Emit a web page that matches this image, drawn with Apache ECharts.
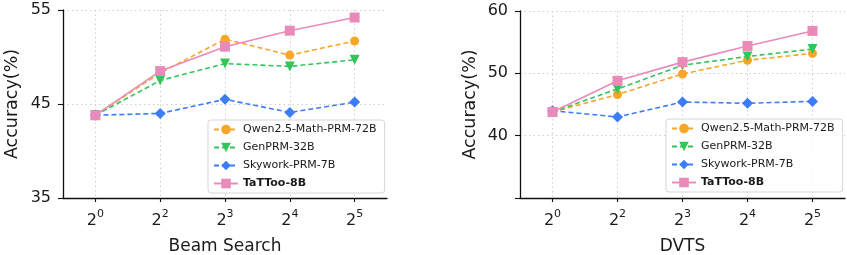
<!DOCTYPE html>
<html><head><meta charset="utf-8">
<script src="https://cdn.jsdelivr.net/npm/echarts@6/dist/echarts.min.js"></script>
<style>html,body{margin:0;padding:0;background:#fff}#c{width:847px;height:255px}</style>
</head><body><div id="c"></div>
<script>
const exponents = ['0','2','3','4','5'];
const seriesNames = ['Qwen2.5-Math-PRM-72B','GenPRM-32B','Skywork-PRM-7B','TaTToo-8B'];
// Beam Search
const beamQwen    = [43.8, 48.3, 51.9, 50.2, 51.7];
const beamGen     = [43.8, 47.5, 49.3, 49.0, 49.7];
const beamSky     = [43.8, 44.0, 45.5, 44.1, 45.2];
const beamTattoo  = [43.8, 48.5, 51.1, 52.8, 54.2];
// DVTS
const dvtsQwen    = [43.8, 46.6, 49.9, 52.1, 53.2];
const dvtsGen     = [43.8, 47.5, 51.3, 52.7, 53.9];
const dvtsSky     = [44.0, 43.0, 45.4, 45.2, 45.5];
const dvtsTattoo  = [43.8, 48.8, 51.8, 54.4, 56.8];
const yTicksLeft  = [35, 45, 55];
const yTicksRight = [40, 50, 60];

const colors = ['#f8a629','#34c55a','#3c7cf6','#e98bb9'];
const symbols = ['circle','triangle','diamond','rect'];
const symRot = [0,180,0,0];
const symSize = [9,10,11,10];
const FONT = 'DejaVu Sans';
const TXT = '#1a1a1a';

const chart = echarts.init(document.getElementById('c'), null, {renderer:'canvas'});

function xAxis(gi, title){
  return {
    type:'value', gridIndex:gi, min:-0.5, max:exponents.length-0.5,
    name:title, nameLocation:'middle', nameGap:40,
    nameTextStyle:{fontFamily:FONT, fontSize:17, color:TXT},
    axisLine:{show:true, onZero:false, lineStyle:{color:'#111', width:1.3}},
    axisTick:{show:true, length:4, customValues:exponents.map((e,i)=>i), lineStyle:{color:'#111', width:1.1}},
    axisLabel:{customValues:exponents.map((e,i)=>i), margin:11,
      formatter:v=>'{b|2}{s|'+exponents[Math.round(v)]+'}',
      rich:{b:{fontFamily:FONT,fontSize:16,color:TXT,verticalAlign:'bottom',lineHeight:20},
            s:{fontFamily:FONT,fontSize:11,color:TXT,verticalAlign:'top',lineHeight:11}}},
    splitLine:{show:true, lineStyle:{type:[1.5,3], color:'#cfcfcf', width:1}}
  };
}
function yAxis(gi, min, max, ticks, gap){
  return {
    type:'value', gridIndex:gi, min:min, max:max, interval:10,
    name:'Accuracy(%)', nameLocation:'middle', nameGap:gap, nameRotate:90,
    nameTextStyle:{fontFamily:FONT, fontSize:17.5, color:TXT},
    axisLine:{show:true, onZero:false, lineStyle:{color:'#111', width:1.3}},
    axisTick:{show:true, length:5, lineStyle:{color:'#111', width:1.1}},
    axisLabel:{margin:12, fontFamily:FONT, fontSize:16, color:TXT,
      formatter:v=>ticks.indexOf(v)>=0?String(v):''},
    splitLine:{show:true, lineStyle:{type:[1.5,3], color:'#cfcfcf', width:1}}
  };
}
function mkSeries(gi, arrs){
  return arrs.map((arr,k)=>({
    type:'line', name:seriesNames[k], xAxisIndex:gi, yAxisIndex:gi,
    data:arr.map((v,i)=>[i,v]),
    symbol:symbols[k], symbolRotate:symRot[k], symbolSize:symSize[k], showSymbol:true,
    itemStyle:{color:colors[k]},
    lineStyle:{color:colors[k], width:1.6, type:k<3?[5,3]:'solid'},
    z:2+k, animation:false
  }));
}
function legend(left, top){
  return {
    orient:'vertical', left:left, top:top,
    backgroundColor:'rgba(255,255,255,0.85)', borderColor:'#d6d6d6', borderWidth:1, borderRadius:3,
    padding:[4,8,4,5], itemGap:7, itemWidth:24, itemHeight:12,
    textStyle:{fontFamily:FONT, fontSize:11, color:TXT},
    data:seriesNames.map((n,k)=>k===3?{name:n,textStyle:{fontWeight:'bold'}}:{name:n})
  };
}
chart.setOption({
  animation:false,
  grid:[{left:63, top:10, width:324, height:188, outerBoundsMode:'none', containLabel:false},
        {left:520, top:11, width:325, height:187, outerBoundsMode:'none', containLabel:false}],
  xAxis:[xAxis(0,'Beam Search'), xAxis(1,'DVTS')],
  yAxis:[yAxis(0,35,55,yTicksLeft,42), yAxis(1,30,60,yTicksRight,41)],
  legend:[legend(208,120), legend(666,119)],
  series:[].concat(mkSeries(0,[beamQwen,beamGen,beamSky,beamTattoo]),
                   mkSeries(1,[dvtsQwen,dvtsGen,dvtsSky,dvtsTattoo]))
});
</script></body></html>
